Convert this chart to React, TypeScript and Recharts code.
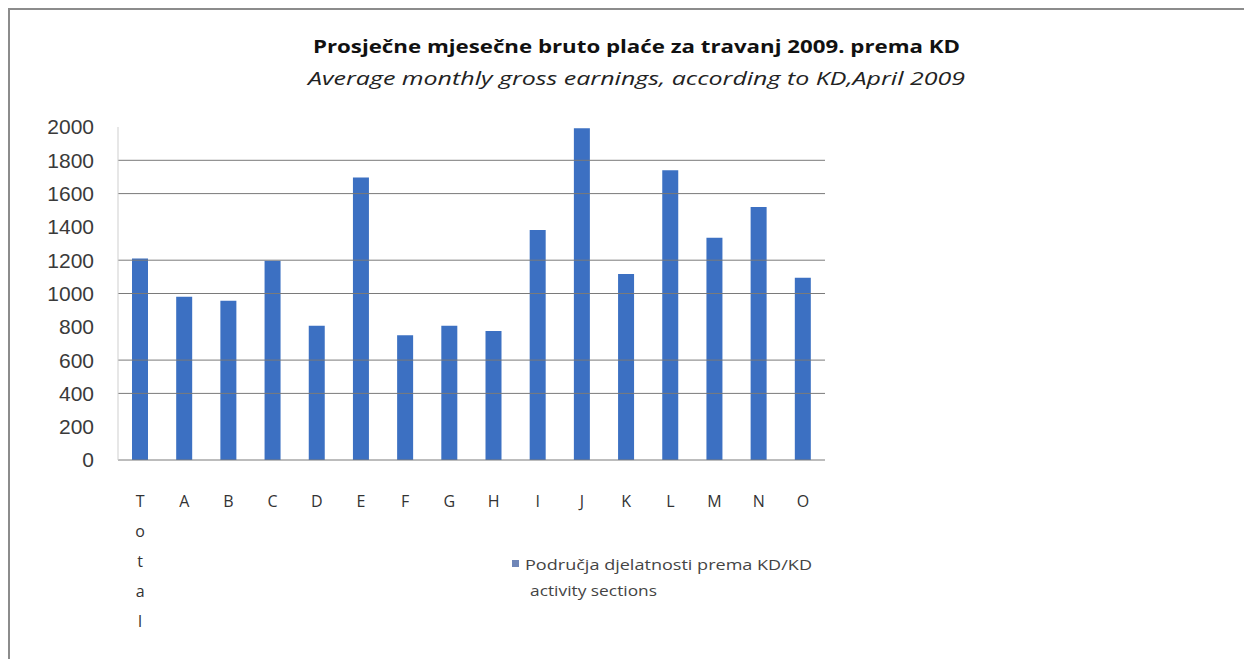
import { Bar, BarChart, ReferenceLine, XAxis, YAxis } from 'recharts';

const categories = ['Total', 'A', 'B', 'C', 'D', 'E', 'F', 'G', 'H', 'I', 'J', 'K', 'L', 'M', 'N', 'O'];
const earnings = [1210, 980, 957, 1197, 807, 1696, 749, 807, 775, 1381, 1992, 1117, 1740, 1335, 1520, 1095];
const yTicks = [0, 200, 400, 600, 800, 1000, 1200, 1400, 1600, 1800, 2000];
// only these gridlines survive in the scanned original
const gridValues = [400, 600, 1000, 1200, 1600, 1800];

const title = 'Prosječne mjesečne bruto plaće za travanj 2009. prema KD';
const subtitle = 'Average monthly gross earnings, according to KD,April 2009';
const legendLine1 = 'Područja djelatnosti prema KD/KD';
const legendLine2 = 'activity sections';

const BAR_COLOR = '#3c70c2';

const data = categories.map((name, i) => ({ name, value: earnings[i] }));

function XTick(props: any) {
  const { x, y, payload } = props;
  const chars = String(payload.value).split('');
  return (
    <text
      x={x}
      y={y + 39}
      textAnchor="middle"
      fontFamily="'Liberation Sans Narrow', 'Open Sans', sans-serif"
      fontSize={16}
      fill="#333"
    >
      {chars.map((ch, i) => (
        <tspan key={i} x={x} dy={i === 0 ? 0 : 30}>
          {ch}
        </tspan>
      ))}
    </text>
  );
}

export default function App() {
  return (
    <div
      style={{
        position: 'relative',
        width: 1244,
        height: 651,
        borderTop: '2px solid #8c8c8c',
        borderLeft: '2px solid #8c8c8c',
        boxSizing: 'border-box',
        background: '#fff',
      }}
    >
      <BarChart
        width={1242}
        height={649}
        data={data}
        margin={{ top: 117, right: 427, bottom: 159, left: 48 }}
        barSize={16}
      >
        <XAxis
          dataKey="name"
          height={40}
          interval={0}
          tickLine={false}
          axisLine={{ stroke: '#7a7a7a' }}
          tick={<XTick />}
        />
        <YAxis
          width={60}
          domain={[0, 2000]}
          ticks={yTicks}
          interval={0}
          tickLine={false}
          tickMargin={18}
          axisLine={{ stroke: '#cfcfcf' }}
          tick={{ fontSize: 21, fill: '#3a3a3a', fontFamily: "'Liberation Sans', Arial, sans-serif" }}
        />
        {gridValues.map((v) => (
          <ReferenceLine key={v} y={v} stroke="#7a7a7a" strokeWidth={1} />
        ))}
        <Bar dataKey="value" fill={BAR_COLOR} isAnimationActive={false} />
      </BarChart>
      <svg
        width={1242}
        height={649}
        style={{ position: 'absolute', left: 0, top: 0, pointerEvents: 'none' }}
      >
        <text
          x={303}
          y={43}
          textLength={647}
          lengthAdjust="spacingAndGlyphs"
          fontFamily="'Open Sans', sans-serif"
          fontWeight={700}
          fontSize={17}
          fill="#111"
        >
          {title}
        </text>
        <text
          x={298}
          y={75}
          textLength={657}
          lengthAdjust="spacingAndGlyphs"
          fontFamily="'Open Sans', sans-serif"
          fontStyle="italic"
          fontSize={18}
          fill="#222"
        >
          {subtitle}
        </text>
        <rect x={502} y={550} width={7} height={7} fill="#6f86b8" />
        <text
          x={515}
          y={560}
          textLength={287}
          lengthAdjust="spacingAndGlyphs"
          fontFamily="'Open Sans', sans-serif"
          fontSize={14}
          fill="#444"
        >
          {legendLine1}
        </text>
        <text
          x={520}
          y={586}
          textLength={127}
          lengthAdjust="spacingAndGlyphs"
          fontFamily="'Open Sans', sans-serif"
          fontSize={14}
          fill="#444"
        >
          {legendLine2}
        </text>
      </svg>
    </div>
  );
}
